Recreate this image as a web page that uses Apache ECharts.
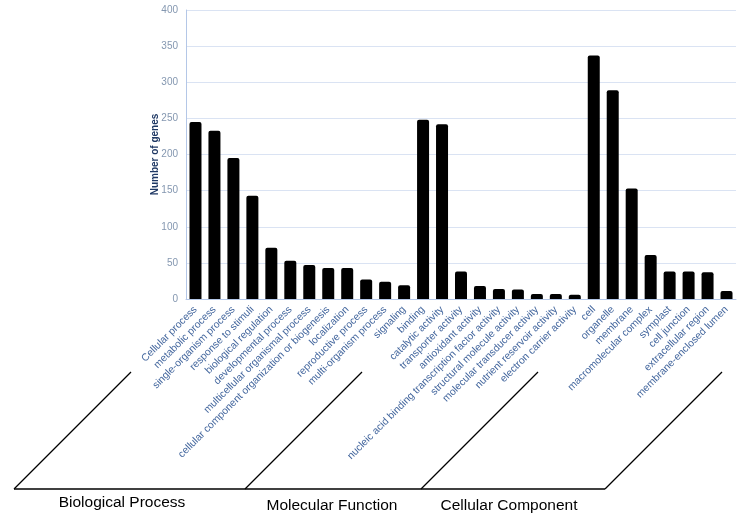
<!DOCTYPE html>
<html>
<head>
<meta charset="utf-8">
<script src="https://cdn.jsdelivr.net/npm/echarts@6/dist/echarts.min.js"></script>
<style>
  html, body { margin: 0; padding: 0; background: #fff; }
  #chart { width: 743px; height: 517px; }
</style>
</head>
<body>
<div id="chart"></div>
<script>
// GO terms, grouped: biological process, molecular function, cellular component
const categories = [
  'Cellular process', 'metabolic process', 'single-organism process', 'response to stimuli',
  'biological regulation', 'developmental process', 'multicellular organismal process',
  'cellular component organization or biogenesis', 'localization', 'reproductive process',
  'multi-organism process', 'signaling',
  'binding', 'catalytic activity', 'transporter activity', 'antioxidant activity',
  'nucleic acid binding transcription factor activity', 'structural molecule activity',
  'molecular transducer activity', 'nutrient reservoir activity', 'electron carrier activity',
  'cell', 'organelle', 'membrane', 'macromolecular complex', 'symplast', 'cell junction',
  'extracellular region', 'membrane-enclosed lumen'
]
const geneCounts = [
  245, 233, 195, 143, 71, 53, 47, 43, 43, 27, 24, 19,
  248, 242, 38, 18, 14, 13, 7, 7, 6,
  337, 289, 153, 61, 38, 38, 37, 11
]
const groupNames = ['Biological Process', 'Molecular Function', 'Cellular Component']
const yTicks = [0, 400, 50] // min, max, step

const chart = echarts.init(document.getElementById('chart'))

// bracket lines under the labels
const bracketStyle = { stroke: '#000', lineWidth: 1.3 }
const brackets = [
  { type: 'line', shape: { x1: 14, y1: 489, x2: 605, y2: 489 }, style: bracketStyle },
  { type: 'line', shape: { x1: 14, y1: 489, x2: 131, y2: 372 }, style: bracketStyle },
  { type: 'line', shape: { x1: 245, y1: 489, x2: 362, y2: 372 }, style: bracketStyle },
  { type: 'line', shape: { x1: 421, y1: 489, x2: 538, y2: 372 }, style: bracketStyle },
  { type: 'line', shape: { x1: 605, y1: 489, x2: 722, y2: 372 }, style: bracketStyle }
]
const groupX = [122, 332, 509]
const groupY = [503, 506, 506]
const groupTexts = groupNames.map(function (name, i) {
  return {
    type: 'text',
    x: groupX[i],
    y: groupY[i],
    style: {
      text: name,
      fill: '#000',
      font: '15.5px "Liberation Sans", Arial, sans-serif',
      align: 'center',
      verticalAlign: 'middle'
    }
  }
})

const option = {
  animation: false,
  grid: {
    left: 186,
    right: 7,
    top: 10,
    bottom: 218,
    containLabel: false
  },
  xAxis: {
    type: 'category',
    data: categories,
    axisTick: { show: false },
    axisLine: { lineStyle: { color: '#b4c7e7', width: 1 } },
    axisLabel: {
      interval: 0,
      rotate: 45,
      margin: 9,
      color: '#44679e',
      fontSize: 10.3,
      fontFamily: 'Liberation Sans'
    }
  },
  yAxis: {
    type: 'value',
    min: yTicks[0],
    max: yTicks[1],
    interval: yTicks[2],
    name: 'Number of genes',
    nameLocation: 'middle',
    nameGap: 26,
    nameMoveOverlap: false,
    nameTextStyle: {
      color: '#1f3864',
      fontWeight: 'bold',
      fontSize: 10,
      fontFamily: 'Liberation Sans'
    },
    axisLine: { show: true, lineStyle: { color: '#b4c7e7' } },
    axisTick: { show: false },
    axisLabel: {
      color: '#8497b0',
      fontSize: 10,
      fontFamily: 'Liberation Sans',
      margin: 8
    },
    splitLine: { lineStyle: { color: '#dae3f3' } }
  },
  series: [
    {
      name: 'genes',
      type: 'bar',
      data: geneCounts,
      barWidth: 12,
      itemStyle: {
        color: '#000',
        borderRadius: [2, 2, 0, 0]
      }
    }
  ],
  graphic: brackets.concat(groupTexts)
}

chart.setOption(option)
</script>
</body>
</html>
